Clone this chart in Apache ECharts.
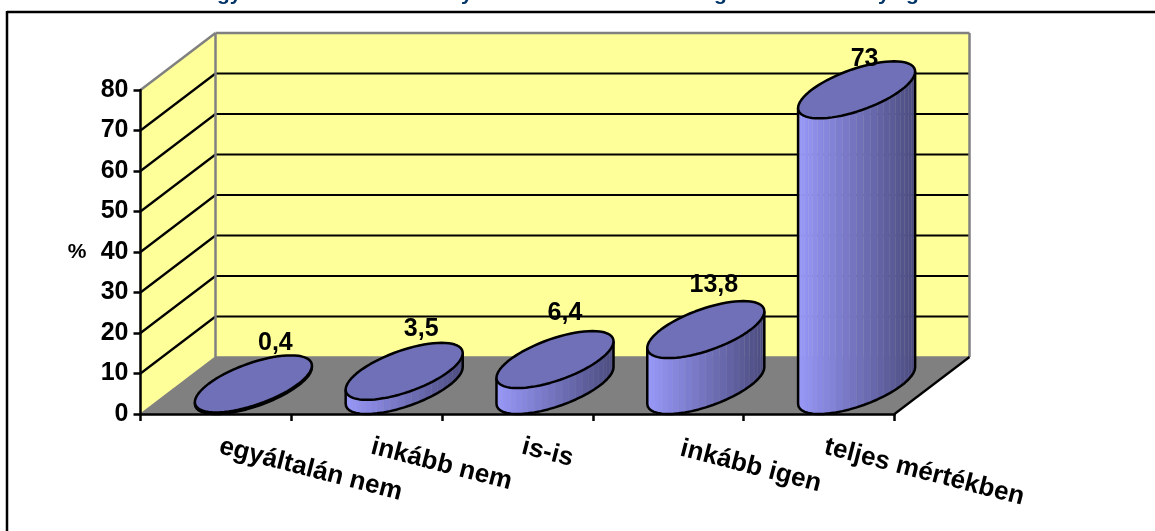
<!DOCTYPE html>
<html><head><meta charset="utf-8">
<style>html,body{margin:0;padding:0;background:#fff}#c{width:1155px;height:531px}</style>
<script src="https://cdn.jsdelivr.net/npm/echarts@6/dist/echarts.min.js"></script>
</head><body><div id="c"></div>
<script>
const categories = ['egyáltalán nem','inkább nem','is-is','inkább igen','teljes mértékben'];
const values = [0.4,3.5,6.4,13.8,73];
const valueLabels = ['0,4','3,5','6,4','13,8','73'];
const gridValues = [0,10,20,30,40,50,60,70,80];
const titleFragments = ['gy','y','g','y','g'];

// layout
const DX = 75, DY = 57;
const FONT = 'Liberation Sans, Arial, sans-serif';
const labelShift = [[22,-12],[17,-14],[10,-18],[8,-16],[8,-2]];
const categoryPad = [4,5,5,13,6];
const titleX = [217,461,714,878,906];
const BAR = 0.596;
const mix = (a,b,f)=>'rgb('+a.map((v,i)=>Math.round(v+(b[i]-v)*f)).join(',')+')';

function renderWalls(params, api){
  const p0 = api.coord([0,0]), size = api.size([1,0])[0];
  const xL = p0[0]-size/2, xR = xL+size*categories.length;
  const yOf = v=>api.coord([0,v])[1];
  const y0 = yOf(0), yT = yOf(80);
  const kids = [];
  const poly = (pts,fill)=>kids.push({type:'polygon',shape:{points:pts},style:{fill,stroke:null}});
  const line = (a,b,c,w)=>kids.push({type:'line',shape:{x1:a[0],y1:a[1],x2:b[0],y2:b[1]},style:{stroke:c,lineWidth:w}});
  poly([[xL,yT],[xL+DX,yT-DY],[xL+DX,y0-DY],[xL,y0]],'#FFFF99');
  poly([[xL+DX,yT-DY],[xR+DX,yT-DY],[xR+DX,y0-DY],[xL+DX,y0-DY]],'#FFFF99');
  poly([[xL,y0],[xL+DX,y0-DY],[xR+DX,y0-DY],[xR,y0]],'#808080');
  gridValues.slice(1,-1).forEach(v=>{
    const y=yOf(v);
    line([xL,y],[xL+DX,y-DY],'#000',2.2);
    line([xL+DX,y-DY],[xR+DX,y-DY],'#000',2.2);
  });
  line([xL,yT],[xL+DX,yT-DY],'#808080',2.5);
  line([xL+DX,yT-DY],[xR+DX,yT-DY],'#808080',2.5);
  line([xR+DX,yT-DY],[xR+DX,y0-DY],'#808080',2.5);
  line([xL+DX,yT-DY],[xL+DX,y0-DY],'#808080',2.5);
  line([xL,y0],[xL+DX,y0-DY],'#808080',1.5);
  line([xL+DX,y0-DY],[xR+DX,y0-DY],'#808080',1.5);
  line([xR,y0],[xR+DX,y0-DY],'#000',2.2);
  return {type:'group',children:kids};
}

function renderCylinder(params, api){
  const i = api.value(0), v = api.value(1);
  const base = api.coord([i,0]), top = api.coord([i,v]);
  const band = api.size([1,0])[0], w = band*BAR;
  const ell = (c,t)=>[c[0]+DX/2+w/2*Math.cos(t)+DX/2*Math.sin(t), c[1]-DY/2-DY/2*Math.sin(t)];
  const t0 = Math.atan2(DX,w), N = 26, kids = [];
  const bottomPts = [], topPts = [];
  for(let k=0;k<=N;k++){
    const t = t0-Math.PI+Math.PI*k/N;
    bottomPts.push(ell(base,t)); topPts.push(ell(top,t));
  }
  const xa = bottomPts[0][0], xb = bottomPts[N][0];
  for(let k=0;k<N;k++){
    const f = ((bottomPts[k][0]+bottomPts[k+1][0])/2-xa)/(xb-xa);
    const fill = mix([152,152,250],[76,76,128],f);
    kids.push({type:'polygon',shape:{points:[bottomPts[k],bottomPts[k+1],topPts[k+1],topPts[k]]},
      style:{fill,stroke:fill,lineWidth:0.6}});
    if(k>0) kids.push({type:'line',shape:{x1:bottomPts[k][0],y1:bottomPts[k][1],x2:topPts[k][0],y2:topPts[k][1]},
      style:{stroke:'rgba(255,255,255,0.08)',lineWidth:0.8}});
  }
  kids.push({type:'polyline',shape:{points:[topPts[0]].concat(bottomPts,[topPts[N]])},
    style:{fill:null,stroke:'#000',lineWidth:2.5,lineJoin:'round'}});
  const ring=[];
  for(let k=0;k<72;k++) ring.push(ell(top,k/72*2*Math.PI));
  kids.push({type:'polygon',shape:{points:ring},style:{fill:'#7070B8',stroke:'#000',lineWidth:2.5,lineJoin:'round'}});
  const s = labelShift[i];
  kids.push({type:'text',style:{text:valueLabels[i],x:top[0]+DX/2+s[0],y:top[1]-DY+s[1],
    align:'center',verticalAlign:'middle',fill:'#000',font:'bold 25px '+FONT}});
  return {type:'group',children:kids};
}

const chart = echarts.init(document.getElementById('c'),null,{renderer:'canvas'});
chart.setOption({
  animation:false,
  backgroundColor:'#fff',
  grid:{left:140.5,top:90,width:754,height:324,containLabel:false},
  xAxis:{type:'category',z:5,
    data:categories.map((c,i)=>({value:c,textStyle:{padding:[0,0,0,categoryPad[i]]}})),
    axisLine:{lineStyle:{color:'#000',width:2.5}},
    axisTick:{show:true,length:7,alignWithLabel:false,lineStyle:{color:'#000',width:2.5}},
    axisLabel:{interval:0,rotate:-14.5,align:'left',verticalAlign:'top',margin:31,hideOverlap:false,
      color:'#000',fontFamily:FONT,fontWeight:'bold',fontSize:26},
    splitLine:{show:false}},
  yAxis:{type:'value',min:0,max:80,interval:10,z:5,name:'%',nameLocation:'middle',nameRotate:0,nameGap:54,
    nameTextStyle:{color:'#000',fontFamily:FONT,fontWeight:'bold',fontSize:21,padding:[5,0,0,0]},
    axisLine:{show:true,lineStyle:{color:'#000',width:2.5}},
    axisTick:{show:true,length:7,lineStyle:{color:'#000',width:2.5}},
    axisLabel:{margin:12,color:'#000',fontFamily:FONT,fontWeight:'bold',fontSize:25},
    splitLine:{show:false}},
  graphic:[
    {type:'line',silent:true,shape:{x1:7,y1:12,x2:1155,y2:12},style:{stroke:'#000',lineWidth:2.5}},
    {type:'line',silent:true,shape:{x1:7,y1:11,x2:7,y2:531},style:{stroke:'#000',lineWidth:2.5}}
  ].concat(titleFragments.map((t,i)=>({type:'text',silent:true,
    style:{text:t,x:titleX[i],y:-16,fill:'#003366',font:'bold 21px '+FONT}}))),
  series:[
    {type:'custom',name:'walls',z:1,silent:true,coordinateSystem:'cartesian2d',clip:false,
     data:[[0,0]],renderItem:renderWalls,encode:{x:0,y:1}},
    {type:'custom',name:'%',z:3,silent:true,coordinateSystem:'cartesian2d',clip:false,
     data:values.map((v,i)=>[i,v]),renderItem:renderCylinder,encode:{x:0,y:1}}
  ]
});
</script></body></html>
